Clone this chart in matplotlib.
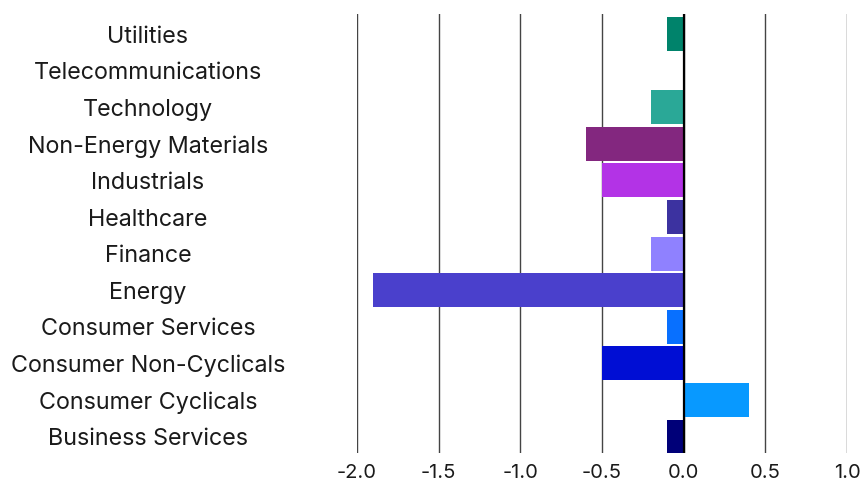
import matplotlib.pyplot as plt
import numpy as np

plt.rcParams['font.family'] = ['Inter', 'DejaVu Sans']

sectors = ['Business Services', 'Consumer Cyclicals', 'Consumer Non-Cyclicals',
           'Consumer Services', 'Energy', 'Finance', 'Healthcare', 'Industrials',
           'Non-Energy Materials', 'Technology', 'Telecommunications', 'Utilities']
values = [-0.1, 0.4, -0.5, -0.1, -1.9, -0.2, -0.1, -0.5, -0.6, -0.2, 0.0, -0.1]
colors = ['#000078', '#0899FF', '#000ED4', '#0870FF', '#4A40CC', '#8F81FF',
          '#3C32A0', '#B333E6', '#83277F', '#2AA897', '#2AA897', '#00836B']
xticks = [-2.0, -1.5, -1.0, -0.5, 0.0, 0.5, 1.0]

W, H = 865, 483
fig = plt.figure(figsize=(W / 100, H / 100), dpi=100)
ax = fig.add_axes([357 / W, 30 / H, (847 - 357) / W, (469 - 30) / H])

y = np.arange(len(sectors))
for xt in xticks:
    ax.axvline(xt, color='#444444', lw=1, zorder=0)
ax.barh(y, values, height=0.93, color=colors, zorder=2)
ax.axvline(0, color='black', lw=1.6, zorder=3)

ax.set_xlim(-2.0, 1.0)
ax.set_ylim(-0.45, 11.55)
ax.set_xticks(xticks)
ax.set_xticklabels(['%.1f' % v for v in xticks], fontsize=14.5, color='#1a1a1a')
ax.set_yticks(y)
ax.set_yticklabels(sectors, fontsize=16.8, color='#1a1a1a', ha='center')
ax.tick_params(axis='y', length=0, pad=150.5)
ax.tick_params(axis='x', length=0, pad=8)
for s in ax.spines.values():
    s.set_visible(False)

plt.savefig('out.png', dpi=100)
